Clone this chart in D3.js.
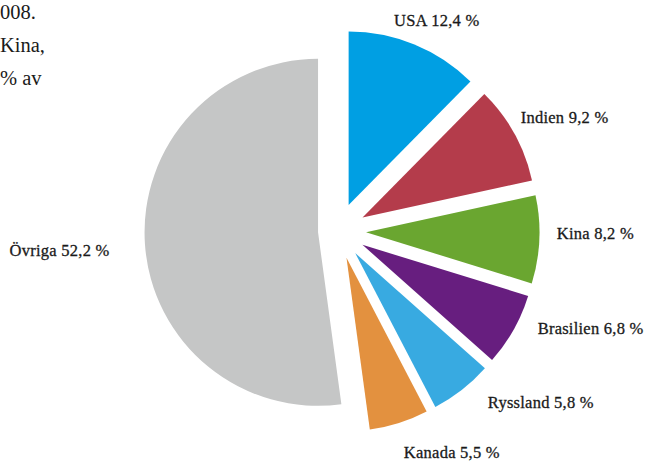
<!DOCTYPE html>
<html><head><meta charset="utf-8">
<script src="https://cdn.jsdelivr.net/npm/d3@7"></script>
<style>body{margin:0;background:#fff;overflow:hidden} svg{display:block}</style>
</head><body><svg id="c" width="646" height="461"></svg>
<script>
// ---- data ----
const categories = ["USA", "Indien", "Kina", "Brasilien", "Ryssland", "Kanada", "Övriga"];
const shares = [12.4, 9.2, 8.2, 6.8, 5.8, 5.5, 52.2];
const colors = ["#009fe3", "#b43c4b", "#6aa630", "#671e7f", "#38aae1", "#e3913f", "#c5c6c6"];
const introLines = ["008.", "Kina,", "% av"];

// ---- layout / style ----
const cx = 338, cy = 231, radius = 173.5;
const explodeSmall = 28, explodeLargest = 20;
const labelRadius = 224;
const labelTurn = -3 * Math.PI / 180;
const labelNudge = [[9, 1], [8, 5], [-5, 5], [-1, -2], [3, 2], [-2, 8], [-5, 4]];
const font = "'Liberation Serif', 'Times New Roman', serif";
const ink = "#1a1a1a";

const svg = d3.select("#c");

// intro paragraph fragment at the top-left
svg.append("g").selectAll("text").data(introLines).join("text")
  .attr("x", 0)
  .attr("y", (d, i) => 18.5 + i * 33)
  .attr("font-family", font)
  .attr("font-size", 20.5)
  .attr("fill", ink)
  .text(d => d);

const data = categories.map((c, i) => ({ cat: c, value: shares[i], color: colors[i], idx: i }));
const maxVal = d3.max(shares);

const pie = d3.pie().sort(null).value(d => d.value);
const arcs = pie(data);
const arc = d3.arc().innerRadius(0).outerRadius(radius);

const g = svg.append("g").attr("transform", `translate(${cx},${cy})`);

function offsetOf(d) {
  const a = (d.startAngle + d.endAngle) / 2;
  const e = d.data.value === maxVal ? explodeLargest : explodeSmall;
  return [Math.sin(a) * e, -Math.cos(a) * e];
}

g.selectAll("path").data(arcs).join("path")
  .attr("d", arc)
  .attr("fill", d => d.data.color)
  .attr("transform", d => `translate(${offsetOf(d)})`);

const fmt = v => String(v).replace(".", ",") + " %";

const labels = g.selectAll("text.lbl").data(arcs).join("text")
  .attr("class", "lbl")
  .attr("font-family", font)
  .attr("font-size", 16.5)
  .attr("letter-spacing", 0.25)
  .attr("fill", ink)
  .attr("stroke", ink)
  .attr("stroke-width", 0.3)
  .attr("dy", "0.33em")
  .text(d => `${d.data.cat} ${fmt(d.data.value)}`);

labels.each(function (d) {
  let a = (d.startAngle + d.endAngle) / 2;
  if (a < Math.PI * 150 / 180) a += labelTurn;
  const px = Math.sin(a) * labelRadius, py = -Math.cos(a) * labelRadius;
  const w = this.getComputedTextLength();
  const shift = w * Math.max(0, Math.cos(a)) * 0.335;
  const right = Math.sin(a) >= 0;
  const [nx, ny] = labelNudge[d.data.idx];
  d3.select(this)
    .attr("text-anchor", right ? "start" : "end")
    .attr("x", (right ? px - shift : px + shift) + nx)
    .attr("y", py + ny);
});
</script>
</body></html>
